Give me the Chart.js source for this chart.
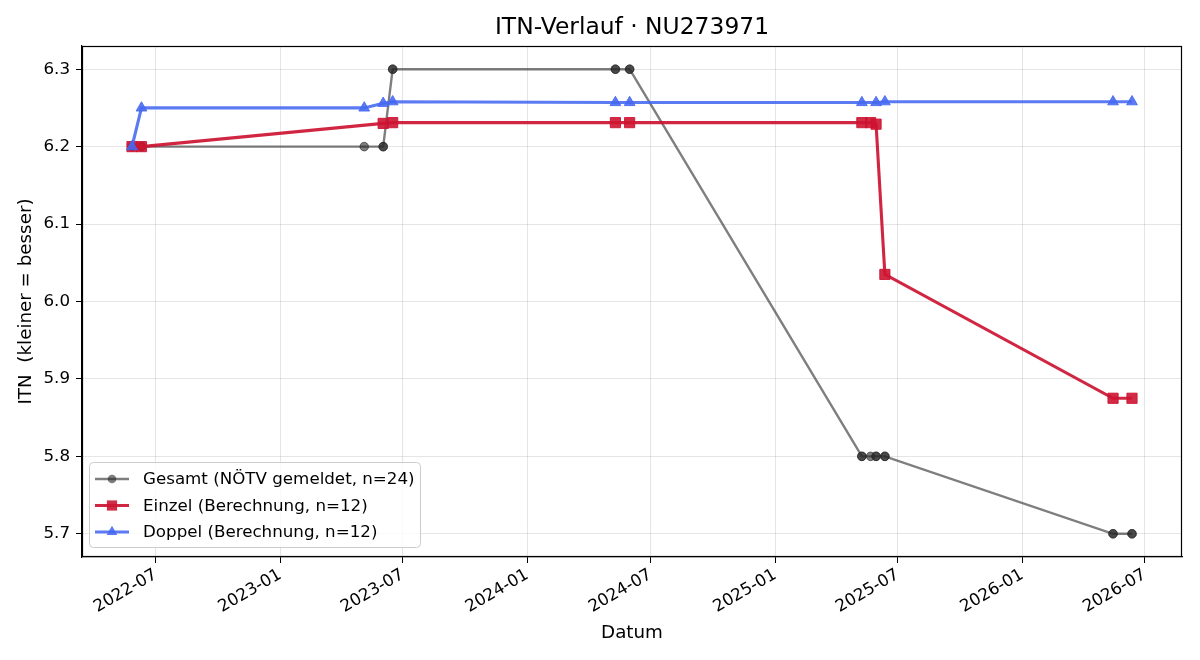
<!DOCTYPE html>
<html>
<head>
<meta charset="utf-8">
<script src="https://cdn.jsdelivr.net/npm/chart.js@4/dist/chart.umd.min.js"></script>
<style>
  html, body { margin: 0; padding: 0; background: #fff; }
  #wrap { width: 1200px; height: 660px; }
</style>
</head>
<body>
<div id="wrap"><canvas id="itnChart" width="1200" height="660"></canvas></div>
<script>
// Gesamt: every date appears once per Einzel/Doppel entry (n=24)
const gesamtDates = ['2022-05-27','2022-05-27','2022-06-10','2022-06-10','2023-05-05','2023-06-02','2023-06-02',
    '2023-06-16','2023-06-16','2024-05-10','2024-05-10','2024-05-31','2024-05-31','2025-05-09','2025-05-09',
    '2025-05-22','2025-05-30','2025-05-30','2025-06-12','2025-06-12','2026-05-15','2026-05-15','2026-06-12','2026-06-12'];
const gesamtValues = [6.2, 6.2, 6.2, 6.2, 6.2, 6.2, 6.2,
    6.3, 6.3, 6.3, 6.3, 6.3, 6.3, 5.8, 5.8,
    5.8, 5.8, 5.8, 5.8, 5.8, 5.7, 5.7, 5.7, 5.7];

const einzelDates = ['2022-05-27','2022-06-10','2023-06-02','2023-06-16','2024-05-10','2024-05-31',
    '2025-05-09','2025-05-22','2025-05-30','2025-06-12','2026-05-15','2026-06-12'];
const einzelValues = [6.2, 6.2, 6.23, 6.231, 6.231, 6.231, 6.231, 6.231, 6.229, 6.035, 5.875, 5.875];

const doppelDates = ['2022-05-27','2022-06-10','2023-05-05','2023-06-02','2023-06-16','2024-05-10',
    '2024-05-31','2025-05-09','2025-05-30','2025-06-12','2026-05-15','2026-06-12'];
const doppelValues = [6.2, 6.25, 6.25, 6.256, 6.258, 6.257, 6.257, 6.257, 6.257, 6.258, 6.258, 6.258];

const xTickLabels = ['2022-07','2023-01','2023-07','2024-01','2024-07','2025-01','2025-07','2026-01','2026-07'];
const yTickValues = [5.7, 5.8, 5.9, 6.0, 6.1, 6.2, 6.3];

const FONT = 'DejaVu Sans';
const TICK_SIZE = 16.7;
const LABEL_SIZE = 18.3;

function toMs(s) {
    const p = s.split('-').map(Number);
    return Date.UTC(p[0], p[1] - 1, p[2] || 1);
}
function pts(dates, values) {
    return dates.map((d, i) => ({ x: toMs(d), y: values[i] }));
}

const allMs = gesamtDates.concat(einzelDates, doppelDates).map(toMs);
const xMinData = Math.min(...allMs), xMaxData = Math.max(...allMs);
const xPad = (xMaxData - xMinData) * 0.05;

const series = [
    { label: 'Gesamt (NÖTV gemeldet, n=24)', data: pts(gesamtDates, gesamtValues),
      line: 'rgba(40,40,40,0.6)', fill: 'rgba(40,40,40,0.6)', width: 2.4, style: 'circle', r: 4.3, order: 3 },
    { label: 'Einzel (Berechnung, n=12)', data: pts(einzelDates, einzelValues),
      line: 'rgba(205,20,50,0.92)', fill: 'rgba(205,20,50,0.9)', width: 3.1, style: 'rect', r: 7.2, order: 2 },
    { label: 'Doppel (Berechnung, n=12)', data: pts(doppelDates, doppelValues),
      line: 'rgba(70,105,240,0.88)', fill: 'rgba(70,105,240,0.88)', width: 3.1, style: 'triangle', r: 6.2, order: 1 }
];

const frame = {
    id: 'frame',
    afterDatasetsDraw(chart) {
        const { ctx, chartArea: a } = chart;
        ctx.save();
        ctx.strokeStyle = '#000';
        ctx.lineWidth = 1.2;
        ctx.strokeRect(Math.round(a.left) + 0.5, Math.round(a.top) + 0.5,
            Math.round(a.right - a.left) - 1, Math.round(a.bottom - a.top) - 1);
        ctx.restore();
    }
};

function marker(ctx, style, x, y, r) {
    ctx.beginPath();
    if (style === 'circle') {
        ctx.arc(x, y, r, 0, Math.PI * 2);
    } else if (style === 'rect') {
        const s = r * Math.SQRT1_2;
        ctx.rect(x - s, y - s, 2 * s, 2 * s);
    } else {
        ctx.moveTo(x, y - r);
        ctx.lineTo(x + r * 0.866, y + r * 0.5);
        ctx.lineTo(x - r * 0.866, y + r * 0.5);
        ctx.closePath();
    }
    ctx.fill();
}

const boxLegend = {
    id: 'boxLegend',
    afterDraw(chart) {
        const { ctx, chartArea: a } = chart;
        const x0 = a.left + 7, y0 = a.bottom - 95, w = 331, h = 85;
        ctx.save();
        ctx.beginPath();
        ctx.roundRect(x0 + 0.5, y0 + 0.5, w, h, 4);
        ctx.fillStyle = 'rgba(255,255,255,0.8)';
        ctx.fill();
        ctx.strokeStyle = '#cccccc';
        ctx.lineWidth = 1;
        ctx.stroke();
        ctx.font = TICK_SIZE + 'px "' + FONT + '"';
        ctx.textBaseline = 'middle';
        series.forEach((s, i) => {
            const y = y0 + 17 + i * 26.5;
            ctx.strokeStyle = s.line;
            ctx.lineWidth = s.width;
            ctx.beginPath();
            ctx.moveTo(x0 + 6, y);
            ctx.lineTo(x0 + 40, y);
            ctx.stroke();
            ctx.fillStyle = s.fill;
            marker(ctx, s.style, x0 + 23, y, s.r);
            ctx.fillStyle = '#000';
            ctx.fillText(s.label, x0 + 54, y + 1);
        });
        ctx.restore();
    }
};

new Chart(document.getElementById('itnChart'), {
    type: 'line',
    data: {
        datasets: series.map(s => ({
            label: s.label,
            data: s.data,
            borderColor: s.line,
            borderWidth: s.width,
            backgroundColor: s.fill,
            pointStyle: s.style,
            pointRadius: s.r,
            pointBackgroundColor: s.fill,
            pointBorderColor: s.fill,
            pointBorderWidth: 1,
            order: s.order,
            tension: 0,
            fill: false
        }))
    },
    options: {
        responsive: false,
        animation: false,
        devicePixelRatio: 1,
        layout: { padding: { left: 0, right: 18, top: 0, bottom: 0 } },
        plugins: {
            legend: { display: false },
            tooltip: { enabled: false },
            title: {
                display: true,
                fullSize: false,
                text: 'ITN-Verlauf · NU273971',
                color: '#000',
                font: { family: FONT, size: 23.4, weight: 'normal' },
                padding: { top: 14, bottom: 3.9 }
            }
        },
        scales: {
            x: {
                type: 'linear',
                min: xMinData - xPad,
                max: xMaxData + xPad,
                afterBuildTicks(scale) {
                    scale.ticks = xTickLabels.map(t => ({ value: toMs(t) }));
                },
                afterFit(scale) { scale.height = 103; },
                ticks: {
                    color: '#000',
                    font: { family: FONT, size: TICK_SIZE },
                    maxRotation: 30,
                    minRotation: 30,
                    padding: 2,
                    autoSkip: false,
                    callback(v) {
                        const d = new Date(v);
                        return d.getUTCFullYear() + '-' + String(d.getUTCMonth() + 1).padStart(2, '0');
                    }
                },
                grid: { color: 'rgba(0,0,0,0.1)', lineWidth: 1, tickColor: '#000', tickLength: 6 },
                border: { color: '#000', width: 1.2 },
                title: {
                    display: true,
                    text: 'Datum',
                    color: '#000',
                    font: { family: FONT, size: LABEL_SIZE },
                    padding: { top: 0, bottom: 16 }
                }
            },
            y: {
                type: 'linear',
                min: 5.67,
                max: 6.33,
                afterBuildTicks(scale) {
                    scale.ticks = yTickValues.map(v => ({ value: v }));
                },
                afterFit(scale) { scale.width = 82; },
                ticks: {
                    color: '#000',
                    font: { family: FONT, size: TICK_SIZE },
                    padding: 6,
                    callback: v => v.toFixed(1)
                },
                grid: { color: 'rgba(0,0,0,0.1)', lineWidth: 1, tickColor: '#000', tickLength: 6 },
                border: { color: '#000', width: 1.2 },
                title: {
                    display: true,
                    text: 'ITN  (kleiner = besser)',
                    color: '#000',
                    font: { family: FONT, size: LABEL_SIZE },
                    padding: { top: 15, bottom: 0 }
                }
            }
        }
    },
    plugins: [frame, boxLegend]
});
</script>
</body>
</html>
